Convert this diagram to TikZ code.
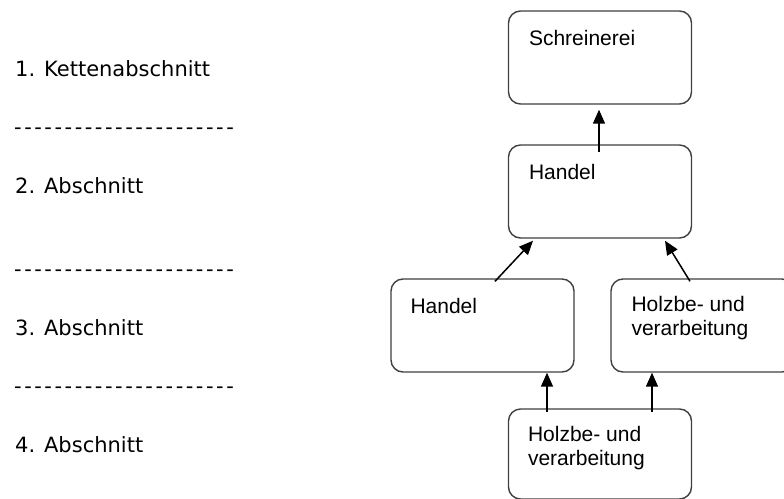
\documentclass[tikz,border=0pt]{standalone}
\usepackage{fontspec}
\usetikzlibrary{arrows.meta}
\newfontfamily\leftfont{DejaVu Sans}
\newfontfamily\boxfont{Liberation Sans}
\begin{document}
\begin{tikzpicture}[x=1pt,y=-1pt,
    kasten/.style={draw=black!75, line width=1.4pt, rounded corners=12pt, minimum width=183pt, minimum height=93pt, inner sep=0pt},
    kastentext/.style={anchor=base west, inner sep=0pt, align=left, font=\boxfont\fontsize{21}{24.5}\selectfont},
    abschnitt/.style={anchor=base west, inner sep=0pt, font=\leftfont\fontsize{21}{25}\selectfont},
    trenner/.style={anchor=base west, inner sep=0pt, font=\leftfont\fontsize{21}{25}\selectfont\addfontfeature{LetterSpace=12}},
    pfeil/.style={-{Triangle[length=14pt,width=12pt]}, line width=1.5pt}]
    \clip (0,0) rectangle (784,498);
    \fill[white] (0,0) rectangle (784,498);
    \node[abschnitt] (a1) at (15,76) {1. Kettenabschnitt};
    \node[trenner] (t1) at (14,134) {----------------------};
    \node[abschnitt] (a2) at (15,193) {2. Abschnitt};
    \node[trenner] (t2) at (14,276) {----------------------};
    \node[abschnitt] (a3) at (15,335) {3. Abschnitt};
    \node[trenner] (t3) at (14,393) {----------------------};
    \node[abschnitt] (a4) at (15,452) {4. Abschnitt};
    \node[kasten] (schreinerei) at (600,57.5) {};
    \node[kasten] (handel2) at (600,191.5) {};
    \node[kasten] (handel3) at (482.5,325.5) {};
    \node[kasten] (holz3) at (702.5,325.5) {};
    \node[kasten, minimum height=90pt] (holz4) at (600,454) {};
    \node[kastentext] (schreinereiText) at ([xshift=21pt,yshift=-35pt]schreinerei.north west) {Schreinerei};
    \node[kastentext] (handel2Text) at ([xshift=21pt,yshift=-35pt]handel2.north west) {Handel};
    \node[kastentext] (handel3Text) at ([xshift=20pt,yshift=-35pt]handel3.north west) {Handel};
    \node[kastentext] (holz3Text) at ([xshift=21pt,yshift=-57.5pt]holz3.north west) {Holzbe- und\\verarbeitung};
    \node[kastentext] (holz4Text) at ([xshift=20pt,yshift=-57.5pt]holz4.north west) {Holzbe- und\\verarbeitung};
    \draw[pfeil] ([xshift=-53pt,yshift=-4pt]holz4.north) -- ([xshift=-53pt]holz4.north |- handel3.south);
    \draw[pfeil] ([xshift=52pt,yshift=-4pt]holz4.north) -- ([xshift=52pt]holz4.north |- holz3.south);
    \draw[pfeil] ([xshift=12.5pt,yshift=-3pt]handel3.north) -- ([xshift=-67pt,yshift=-2pt]handel2.south);
    \draw[pfeil] ([xshift=-12.5pt,yshift=-3pt]holz3.north) -- ([xshift=65pt,yshift=-2pt]handel2.south);
    \draw[pfeil] ([xshift=-1pt,yshift=-8pt]handel2.north) -- ([xshift=-1pt,yshift=-5pt]schreinerei.south);
\end{tikzpicture}
\end{document}
